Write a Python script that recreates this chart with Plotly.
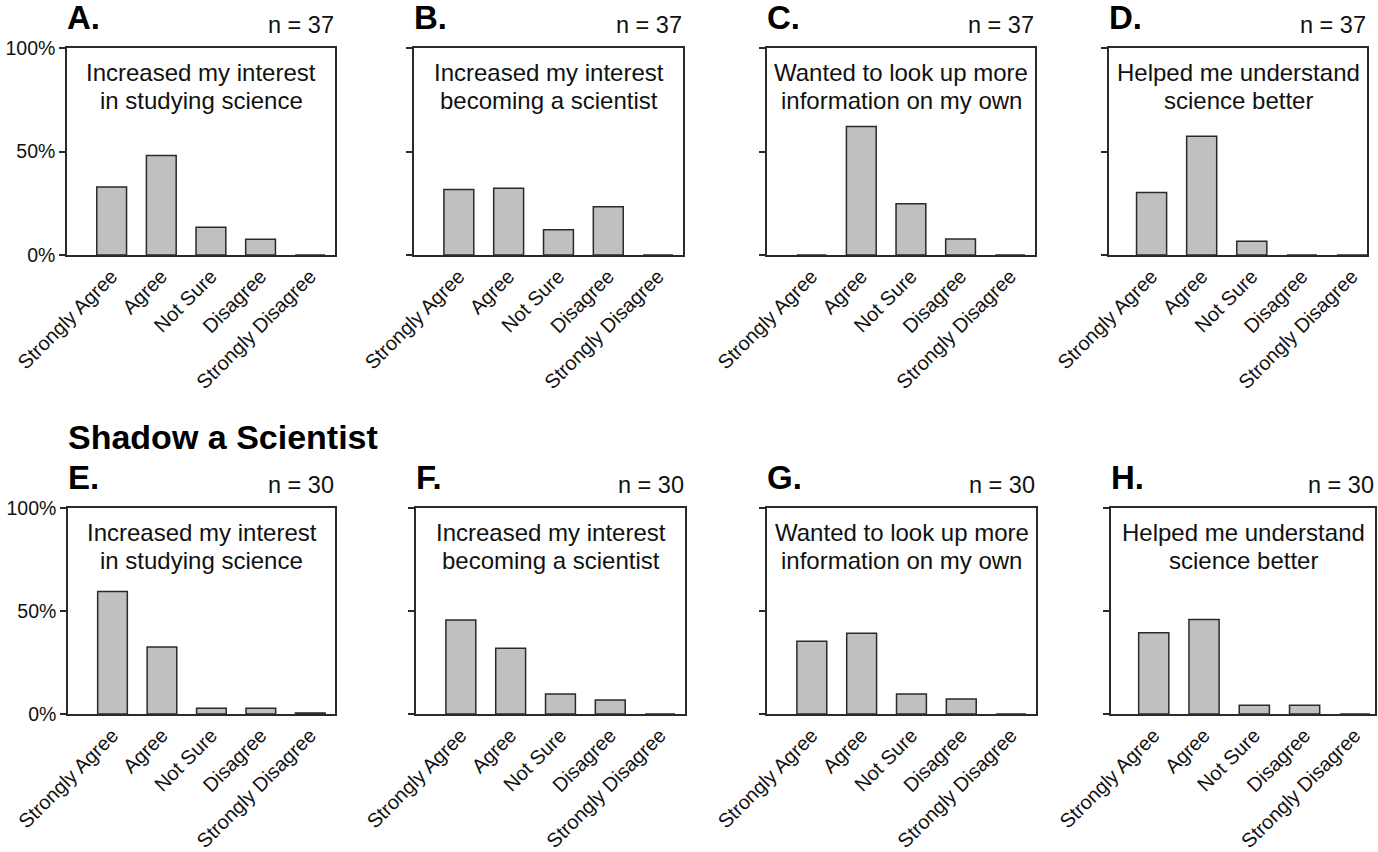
import plotly.graph_objects as go

W, H = 1378, 852

categories = ["Strongly Agree", "Agree", "Not Sure", "Disagree", "Strongly Disagree"]

panel_letters = ["A.", "B.", "C.", "D.", "E.", "F.", "G.", "H."]
panel_n = ["n = 37"] * 4 + ["n = 30"] * 4
panel_titles = [
    ("Increased my interest", "in studying science"),
    ("Increased my interest", "becoming a scientist"),
    ("Wanted to look up more", "information on my own"),
    ("Helped me understand", "science better"),
    ("Increased my interest", "in studying science"),
    ("Increased my interest", "becoming a scientist"),
    ("Wanted to look up more", "information on my own"),
    ("Helped me understand", "science better"),
]

# percentages
vals_A = [32.9, 48.1, 13.4, 7.6, 0]
vals_B = [31.7, 32.3, 12.2, 23.3, 0]
vals_C = [0, 62.1, 24.7, 7.7, 0]
vals_D = [30.2, 57.4, 6.6, 0, 0]
vals_E = [59.5, 32.5, 2.8, 2.8, 0.5]
vals_F = [45.6, 31.9, 9.7, 6.8, 0]
vals_G = [35.3, 39.2, 9.7, 7.3, 0]
vals_H = [39.5, 45.9, 4.2, 4.2, 0]
all_vals = [vals_A, vals_B, vals_C, vals_D, vals_E, vals_F, vals_G, vals_H]

y_tickvals = [0, 50, 100]
y_ticktext = ["0%", "50%", "100%"]
section_title = "Shadow a Scientist"

# panel boxes in pixels: (left, right, top, bottom)
boxes = [
    (67, 335, 48, 255),
    (414, 683, 48, 255),
    (767, 1035, 48, 255),
    (1109, 1367, 48, 255),
    (68, 335, 508, 714),
    (416, 685, 508, 714),
    (767, 1036, 508, 714),
    (1111, 1375, 508, 714),
]
xranges = [
    [-0.9, 4.5], [-0.9, 4.5], [-0.9, 4.5], [-0.85, 4.3],
    [-0.9, 4.5], [-0.9, 4.5], [-0.9, 4.5], [-0.85, 4.4],
]

FONT = "Arial, 'Liberation Sans', sans-serif"
fig = go.Figure()
annotations = []

def px_x(p):
    return p / W

def px_y(p):
    return 1 - p / H

for i, (vals, box) in enumerate(zip(all_vals, boxes)):
    k = "" if i == 0 else str(i + 1)
    l, r, t, b = box
    fig.add_trace(go.Bar(
        x=categories, y=vals,
        xaxis="x" + k, yaxis="y" + k,
        width=0.6,
        marker=dict(color="#c0c0c0", line=dict(color="#2a2a2a", width=1.5)),
        showlegend=False, hoverinfo="x+y",
    ))
    show_lbl = i in (0, 4)
    fig.layout["xaxis" + k] = dict(
        domain=[px_x(l), px_x(r)], anchor="y" + k,
        range=xranges[i], type="category", automargin=False,
        showline=True, mirror=True, linecolor="#2a2a2a", linewidth=1.5,
        showgrid=False, zeroline=False, ticks="",
        tickangle=-45, tickfont=dict(family=FONT, size=20, color="#111"),
        fixedrange=True,
    )
    fig.layout["yaxis" + k] = dict(
        domain=[px_y(b), px_y(t)], anchor="x" + k,
        range=[0, 100], automargin=False,
        showline=True, mirror=True, linecolor="#2a2a2a", linewidth=1.5,
        showgrid=False, zeroline=False,
        ticks="outside", ticklen=6, tickwidth=1.5, tickcolor="#2a2a2a",
        tickvals=y_tickvals, ticktext=y_ticktext,
        showticklabels=show_lbl,
        tickfont=dict(family=FONT, size=19.5, color="#111"),
        fixedrange=True,
    )
    # panel letter
    annotations.append(dict(
        x=px_x(l - 2), y=px_y(t - 10), xref="paper", yref="paper",
        xanchor="left", yanchor="bottom", text="<b>" + panel_letters[i] + "</b>",
        showarrow=False, font=dict(family=FONT, size=33, color="#000"),
    ))
    # n label
    annotations.append(dict(
        x=px_x(r + 1), y=px_y(t - 8), xref="paper", yref="paper",
        xanchor="right", yanchor="bottom", text=panel_n[i],
        showarrow=False, font=dict(family=FONT, size=23.5, color="#111"),
    ))
    # title inside box (two lines)
    for j, line in enumerate(panel_titles[i]):
        annotations.append(dict(
            x=px_x((l + r) / 2), y=px_y(t + 24 + 28.5 * j), xref="paper", yref="paper",
            xanchor="center", yanchor="middle", text=line,
            showarrow=False, font=dict(family=FONT, size=24, color="#111"),
        ))

annotations.append(dict(
    x=px_x(66), y=px_y(437), xref="paper", yref="paper",
    xanchor="left", yanchor="middle", text="<b>" + section_title + "</b>",
    showarrow=False, font=dict(family=FONT, size=34, color="#000"),
))

fig.update_layout(
    width=W, height=H,
    margin=dict(l=0, r=0, t=0, b=0),
    paper_bgcolor="white", plot_bgcolor="white",
    annotations=annotations,
    bargap=0.4,
    font=dict(family=FONT),
)

fig.write_html(
    "out.html",
    config={"displayModeBar": False},
    post_script="document.body.style.margin='0';document.body.style.overflow='hidden';",
)
